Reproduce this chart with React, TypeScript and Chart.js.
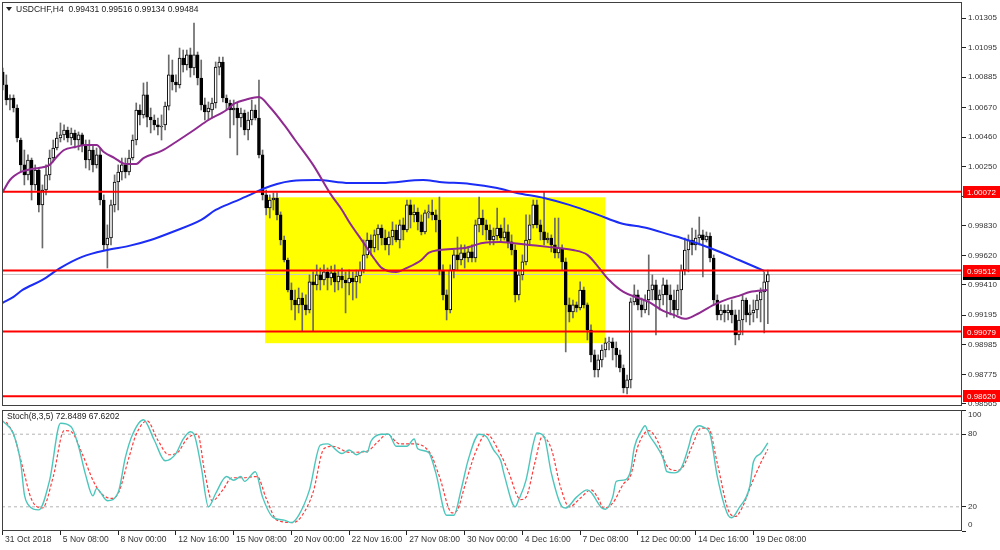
import React, { useEffect, useRef } from "react";
import { Chart, registerables } from "chart.js";

Chart.register(...registerables);

const symbolName = "USDCHF,H4";

const opens = [
  1.00922, 1.0083, 1.00723, 1.00737, 1.00666, 1.00439, 1.00262, 1.00191, 1.00297, 1.0012,
  1.00226, 0.99978, 1.00084, 1.00191, 1.00311, 1.00382, 1.00453, 1.00475, 1.0051, 1.00453,
  1.00489, 1.00439, 1.00475, 1.00404, 1.00297, 1.00368, 1.00262, 1.00333, 1.00013, 0.99694,
  0.99743, 0.99978, 1.00141, 1.00212, 1.00262, 1.00212, 1.00311, 1.00439, 1.00652, 1.00617,
  1.00759, 1.00602, 1.00581, 1.00546, 1.00531, 1.00546, 1.0068, 1.00901, 1.00851, 1.0083,
  1.01021, 1.00972, 1.01043, 1.0095, 1.01043, 1.00879, 1.00688, 1.00638, 1.00652, 1.00702,
  1.00957, 1.00993, 1.00737, 1.00702, 1.00652, 1.00666, 1.00595, 1.00631, 1.0051, 1.00581,
  1.00652, 1.00595, 1.00333, 1.00049, 0.99956, 1.00013, 1.00027, 0.99907, 0.99729, 0.99587,
  0.99374, 0.99303, 0.99268, 0.99317, 0.99268, 0.99232, 0.99431, 0.9941, 0.99481, 0.99445,
  0.99502, 0.99459, 0.99495, 0.99431, 0.99473, 0.99445, 0.99424, 0.99459, 0.99431, 0.99473,
  0.99516, 0.99623, 0.99729, 0.99672, 0.99765, 0.99814, 0.99743, 0.99694, 0.9975, 0.998,
  0.99729, 0.99836, 0.998, 0.99978, 0.99907, 0.99928, 0.99857, 0.99786, 0.99921, 0.99928,
  0.99907, 0.99871, 0.99516, 0.99339, 0.99232, 0.99516, 0.99623, 0.99587, 0.99637, 0.99601,
  0.99644, 0.99601, 0.99836, 0.99885, 0.99836, 0.998, 0.99729, 0.99757, 0.99814, 0.99743,
  0.99786, 0.99715, 0.99658, 0.99339, 0.99481, 0.99573, 0.99729, 0.99836, 0.99978, 0.99836,
  0.99786, 0.99729, 0.99743, 0.99694, 0.99637, 0.99672, 0.99573, 0.99268, 0.99218, 0.99268,
  0.99246, 0.99374, 0.99268, 0.9909, 0.98913, 0.98806, 0.98877, 0.98948, 0.98998, 0.99005,
  0.98962, 0.98913, 0.9882, 0.98678, 0.98735, 0.99289, 0.99339, 0.99268, 0.99232, 0.99303,
  0.99374, 0.9941, 0.99303, 0.99339, 0.9941, 0.99339, 0.99303, 0.99232, 0.99374, 0.99516,
  0.99658, 0.99729, 0.99694, 0.99743, 0.99765, 0.99729, 0.99757, 0.99601, 0.99303, 0.99197,
  0.99232, 0.99211, 0.99232, 0.99197, 0.99055, 0.99161, 0.99303, 0.99197, 0.99211, 0.99232,
  0.99303, 0.9936, 0.99431,
];

const highs = [
  1.0095, 1.00901, 1.00759, 1.00759, 1.00688, 1.00453, 1.00368, 1.00333, 1.00311, 1.00262,
  1.0024, 1.0012, 1.00262, 1.00368, 1.00439, 1.00496, 1.0056, 1.00546, 1.00531, 1.00524,
  1.0051, 1.00496, 1.00489, 1.00439, 1.00439, 1.00404, 1.00382, 1.00382, 1.00049, 0.99836,
  1.00013, 1.00191, 1.00262, 1.00311, 1.00311, 1.00368, 1.00475, 1.00702, 1.00688, 1.00844,
  1.00851, 1.00666, 1.00617, 1.00595, 1.00617, 1.00709, 1.01043, 1.01007, 1.00901, 1.01092,
  1.01078, 1.01078, 1.01092, 1.0127, 1.01064, 1.01007, 1.00737, 1.00709, 1.00737, 1.00993,
  1.01028, 1.01028, 1.00759, 1.00723, 1.00723, 1.00702, 1.00666, 1.00652, 1.00638, 1.00723,
  1.00688, 1.00865, 1.00368, 1.00084, 1.00049, 1.00063, 1.00063, 0.99928, 0.99757, 0.99601,
  0.99424, 0.99374, 0.99388, 0.99353, 0.99339, 0.99481, 0.99502, 0.99552, 0.9953, 0.99552,
  0.9953, 0.99544, 0.99552, 0.99516, 0.9953, 0.99502, 0.99516, 0.99502, 0.99516, 0.99573,
  0.99729, 0.99779, 0.99765, 0.998, 0.99836, 0.99836, 0.998, 0.99786, 0.99857, 0.99836,
  0.99871, 0.99885, 1.00013, 1.00013, 0.99978, 0.99956, 0.99907, 0.99942, 0.99978, 1.00013,
  0.99942, 1.00034, 0.99552, 0.99374, 0.99552, 0.99658, 0.9975, 0.99694, 0.99694, 0.99679,
  0.99694, 0.99871, 1.00034, 0.99942, 0.99871, 0.99836, 0.99814, 0.99956, 0.99836, 0.99885,
  0.99836, 0.99765, 0.99694, 0.99516, 0.99623, 0.99907, 0.99907, 1.00013, 1.00013, 0.99871,
  1.0007, 0.99779, 0.99765, 0.99885, 0.99885, 0.99694, 0.99601, 0.99317, 0.99303, 0.99289,
  0.99431, 0.99395, 0.99282, 0.99126, 0.98948, 0.98913, 0.98984, 0.99033, 0.9904, 0.99033,
  0.99005, 0.98948, 0.98842, 0.9877, 0.99317, 0.9941, 0.99374, 0.99317, 0.99339, 0.99623,
  0.99481, 0.99445, 0.99374, 0.99459, 0.99445, 0.9941, 0.99374, 0.9941, 0.99552, 0.99743,
  0.99765, 0.99814, 0.998, 0.99892, 0.998, 0.99786, 0.99779, 0.99623, 0.99339, 0.99268,
  0.99268, 0.99268, 0.99303, 0.99232, 0.99232, 0.99339, 0.99317, 0.99268, 0.99303, 0.99339,
  0.99388, 0.99502, 0.99516,
];

const lows = [
  1.00794, 1.00688, 1.00652, 1.00638, 1.00425, 1.00212, 1.0012, 1.00155, 1.00013, 1.00084,
  0.99928, 0.99672, 1.00049, 1.00155, 1.00283, 1.00368, 1.00425, 1.00439, 1.00425, 1.00404,
  1.00382, 1.00368, 1.00354, 1.0024, 1.00226, 1.00212, 1.0024, 0.99978, 0.99658, 0.9953,
  0.99694, 0.99928, 0.99942, 1.00155, 1.00169, 1.00191, 1.00297, 1.00404, 1.00546, 1.00595,
  1.00531, 1.00489, 1.0051, 1.00475, 1.00439, 1.0051, 1.00652, 1.00794, 1.0078, 1.00808,
  1.00922, 1.00936, 1.00886, 1.00901, 1.0083, 1.00652, 1.00581, 1.00581, 1.00595, 1.00666,
  1.00901, 1.00709, 1.00652, 1.00453, 1.00546, 1.00333, 1.00531, 1.00475, 1.00439, 1.00546,
  1.00581, 1.00311, 1.00013, 0.99907, 0.99885, 0.99942, 0.99871, 0.99694, 0.99573, 0.9936,
  0.99232, 0.99161, 0.99211, 0.99083, 0.99197, 0.99211, 0.99083, 0.99374, 0.99374, 0.9941,
  0.99374, 0.9941, 0.9936, 0.99374, 0.99388, 0.99211, 0.99339, 0.99303, 0.99317, 0.99424,
  0.99495, 0.99601, 0.99623, 0.99644, 0.99658, 0.99694, 0.99658, 0.99623, 0.99694, 0.99715,
  0.99672, 0.99729, 0.99786, 0.99814, 0.99857, 0.998, 0.99765, 0.99772, 0.99885, 0.99871,
  0.99786, 0.99481, 0.99303, 0.99161, 0.99211, 0.99459, 0.99516, 0.99552, 0.9953, 0.99573,
  0.99573, 0.99573, 0.99786, 0.99765, 0.99729, 0.99694, 0.99694, 0.99729, 0.99715, 0.99729,
  0.99672, 0.99623, 0.99289, 0.99303, 0.99445, 0.99552, 0.99694, 0.99814, 0.99814, 0.99729,
  0.99694, 0.99708, 0.99644, 0.99601, 0.99601, 0.99516, 0.98934, 0.99147, 0.99175, 0.99218,
  0.99232, 0.99246, 0.99019, 0.98863, 0.98756, 0.98756, 0.98827, 0.98898, 0.98948, 0.98877,
  0.98827, 0.98792, 0.98643, 0.98636, 0.98678, 0.99268, 0.99232, 0.99182, 0.99211, 0.99197,
  0.99303, 0.99055, 0.99232, 0.99268, 0.99182, 0.99197, 0.99175, 0.99197, 0.99197, 0.99481,
  0.99502, 0.99623, 0.99658, 0.99694, 0.99466, 0.99715, 0.99573, 0.99268, 0.99161, 0.99161,
  0.99147, 0.99161, 0.9914, 0.98984, 0.99019, 0.99055, 0.99147, 0.99126, 0.99147, 0.99175,
  0.99147, 0.99069, 0.99134,
];

const closes = [
  1.0083, 1.00723, 1.00737, 1.00666, 1.00453, 1.00262, 1.00191, 1.00297, 1.0012, 1.00226,
  0.99978, 1.00084, 1.00191, 1.00311, 1.00382, 1.00453, 1.00475, 1.0051, 1.00453, 1.00489,
  1.00439, 1.00475, 1.00404, 1.00297, 1.00368, 1.00262, 1.00333, 1.00013, 0.99694, 0.99743,
  0.99978, 1.00141, 1.00212, 1.00262, 1.00212, 1.00311, 1.00439, 1.00652, 1.00617, 1.00759,
  1.00602, 1.00581, 1.00546, 1.00531, 1.00538, 1.0068, 1.00901, 1.00851, 1.0083, 1.01021,
  1.00972, 1.01043, 1.0095, 1.01043, 1.00879, 1.00688, 1.00638, 1.00666, 1.00702, 1.00957,
  1.00993, 1.00737, 1.00702, 1.00652, 1.00666, 1.00595, 1.00631, 1.0051, 1.00581, 1.00652,
  1.00595, 1.00333, 1.00049, 0.99956, 1.00013, 1.00027, 0.99907, 0.99729, 0.99587, 0.99374,
  0.99303, 0.99268, 0.99317, 0.99268, 0.99232, 0.99431, 0.9941, 0.99481, 0.99445, 0.99502,
  0.99459, 0.99495, 0.99431, 0.99473, 0.99445, 0.99424, 0.99459, 0.99431, 0.99473, 0.99516,
  0.99623, 0.99729, 0.99672, 0.99765, 0.99814, 0.99743, 0.99694, 0.9975, 0.998, 0.99729,
  0.99836, 0.998, 0.99978, 0.99907, 0.99928, 0.99857, 0.99786, 0.99921, 0.99928, 0.99907,
  0.99871, 0.99516, 0.99339, 0.99232, 0.99516, 0.99623, 0.99587, 0.99637, 0.99601, 0.99644,
  0.99601, 0.99836, 0.99885, 0.99836, 0.998, 0.99729, 0.99757, 0.99814, 0.99743, 0.99786,
  0.99715, 0.99658, 0.99339, 0.99481, 0.99573, 0.99729, 0.99836, 0.99978, 0.99836, 0.99786,
  0.99729, 0.99743, 0.99694, 0.99637, 0.99672, 0.99573, 0.99268, 0.99218, 0.99268, 0.99246,
  0.99374, 0.99268, 0.9909, 0.98913, 0.98806, 0.98877, 0.98948, 0.98998, 0.99005, 0.98962,
  0.98913, 0.9882, 0.98678, 0.98735, 0.99289, 0.99339, 0.99268, 0.99232, 0.99303, 0.99374,
  0.9941, 0.99303, 0.99339, 0.9941, 0.99339, 0.99303, 0.99232, 0.99374, 0.99516, 0.99658,
  0.99729, 0.99694, 0.99743, 0.99765, 0.99729, 0.99757, 0.99601, 0.99303, 0.99197, 0.99232,
  0.99211, 0.99232, 0.99197, 0.99055, 0.99161, 0.99303, 0.99197, 0.99211, 0.99232, 0.99303,
  0.9936, 0.99431, 0.99484,
];

const purpleBars = [0, 2, 5, 8, 10, 13, 15, 17, 20, 23, 26, 28, 31, 34, 37, 39, 44, 48, 53, 57, 62, 64, 68, 71, 74, 78, 81, 86, 91, 94, 96, 100, 103, 105, 109, 112, 116, 118, 121, 128, 133, 138, 141, 146, 151, 154, 158, 162, 165, 168, 172, 176, 179, 183, 186, 189, 192, 197, 201, 204, 207, 212];
const purpleMA = [1.0007, 1.00155, 1.00212, 1.00233, 1.0024, 1.00262, 1.0032, 1.00368, 1.00389, 1.00404, 1.00404, 1.00354, 1.00311, 1.00269, 1.00269, 1.00311, 1.00361, 1.00425, 1.0051, 1.00581, 1.00652, 1.00695, 1.0073, 1.00744, 1.00673, 1.00546, 1.00439, 1.00262, 1.00049, 0.99942, 0.99857, 0.99708, 0.99594, 0.99531, 0.99502, 0.99531, 0.99587, 0.99637, 0.99658, 0.99672, 0.99708, 0.99715, 0.99708, 0.99694, 0.9968, 0.99672, 0.99658, 0.99623, 0.99538, 0.99445, 0.9936, 0.99318, 0.99289, 0.99225, 0.99197, 0.99169, 0.99197, 0.99268, 0.99311, 0.99332, 0.9936, 0.99374];

const blueBars = [0, 3, 5.5, 11, 16, 22, 29, 35, 41, 47, 55, 59, 64, 68.5, 72, 76, 80, 87, 96, 105, 116.5, 121, 129.5, 137, 142.5, 150, 157, 165, 171, 178.5, 185, 188, 196, 204, 211];
const blueMA = [0.99282, 0.99325, 0.99374, 0.99445, 0.99531, 0.99609, 0.99658, 0.99687, 0.99729, 0.99786, 0.99871, 0.99942, 0.99999, 1.00049, 1.00091, 1.00127, 1.00148, 1.00155, 1.00134, 1.00134, 1.00155, 1.00141, 1.00127, 1.00098, 1.00063, 1.00027, 0.99978, 0.99907, 0.9985, 0.99814, 0.99765, 0.99743, 0.99672, 0.99587, 0.99509];

const levelPrices = [1.00072, 0.99512, 0.99079, 0.9862];
const bidPrice = 0.99484;
const zoneBars = [72.7, 166.9];
const zonePrices = [0.98996, 1.00032];

const priceTicks = [1.01305, 1.01095, 1.00885, 1.0067, 1.0046, 1.0025, 1.0004, 0.9983, 0.9962, 0.9941, 0.99195, 0.98985, 0.98775, 0.98565];

const timeLabels = ["31 Oct 2018", "5 Nov 08:00", "8 Nov 00:00", "12 Nov 16:00", "15 Nov 08:00", "20 Nov 00:00", "22 Nov 16:00", "27 Nov 08:00", "30 Nov 00:00", "4 Dec 16:00", "7 Dec 08:00", "12 Dec 00:00", "14 Dec 16:00", "19 Dec 08:00"];
const timeLabelBars = [0, 16, 32, 48, 64, 80, 96, 112, 128, 144, 160, 176, 192, 208];

const stochKBars = [0, 3, 5, 6, 7, 10, 13, 16, 19, 21, 23, 25, 26, 29, 32, 34, 36, 39, 42, 45, 48, 50, 52, 53, 55, 57, 59, 62, 64, 66, 67, 70, 72, 75, 78, 80, 82, 85, 88, 90, 94, 96, 98, 100, 101, 102, 105, 107, 109, 112, 114, 115, 118, 120, 123, 125, 127, 129, 132, 134, 136, 138, 139, 142, 143, 145, 147, 148, 150, 152, 155, 156, 159, 162, 163, 166, 167, 169, 170, 172, 174, 175, 177, 178, 179, 181, 183, 184, 186, 188, 190, 191, 193, 194, 196, 198, 201, 202, 204, 207, 208, 210, 212];
const stochK = [91, 80, 56, 30, 22, 17.5, 42, 89, 86, 70, 46, 29, 35, 25, 32, 61, 80, 92, 75, 58, 64, 76, 82, 80, 53, 20, 31, 45, 42, 45, 41, 49, 28, 11, 9, 7, 13, 34, 71, 72, 64, 67, 63, 66, 65, 74, 80, 80, 70, 70, 76, 68, 65, 48, 13, 13, 34, 59, 80, 78, 67, 58, 46, 20, 26, 42, 72, 81, 78, 48, 20, 19, 28, 34, 32, 19, 18, 28, 41, 42, 50, 69, 83, 87, 80, 71, 60, 49, 48, 52, 69, 80, 87, 86, 80, 45, 13, 11, 19, 37, 57, 64, 72.8489];

const stochDBars = [1, 3, 5.5, 8, 11, 14, 17, 19, 22, 25, 27, 30, 32, 35, 37, 40, 43, 46, 48.5, 51, 54, 56, 58, 61, 63.5, 66.5, 70.5, 73, 76, 80.5, 83, 86, 89, 91.5, 96, 101, 104, 106.5, 110, 114, 118.5, 121, 124.5, 126, 128, 131, 134, 138, 140, 143.5, 145, 147.5, 149.5, 152, 154.5, 157, 160, 163, 165, 166.5, 169, 172, 174, 176, 179, 181.5, 184, 186.5, 188.5, 191, 193.5, 195.5, 198, 201, 203, 205, 207.5, 210, 212];
const stochD = [90, 80, 53, 26, 19, 45, 83, 82, 64, 42, 32, 27, 31, 61, 80, 91, 75, 63, 65, 76, 80, 48, 25, 34, 44, 44, 45, 27, 9, 7, 13, 32, 68, 70, 65, 66, 74, 80, 72, 72, 64, 45, 15, 17.5, 37, 65, 80, 63, 50, 26, 28, 57, 78, 68, 37, 20, 27, 34, 27, 19, 23, 39, 46, 70, 83, 74, 54, 50, 53, 70, 85, 85, 56, 17.5, 12, 20, 39, 56, 67.6202];

const stochLevels = [20, 80];
const stochTicks = [0, 20, 80, 100];
const stochLabeled = [20, 80];

const X_MIN = -0.2;
const X_MAX = 265.8;
const FONT = "'Liberation Sans', Arial, sans-serif";

const hline = (v: number) => [
  { x: X_MIN, y: v },
  { x: X_MAX, y: v },
];

const noPadY = (s: any) => {
  s.width = 38;
  s.paddingTop = 0;
  s.paddingBottom = 0;
};

export default function App() {
  const mainRef = useRef<HTMLCanvasElement | null>(null);
  const stochRef = useRef<HTMLCanvasElement | null>(null);

  useEffect(() => {
    const n = opens.length;
    const idx = opens.map((_, i) => i);
    const wickData = idx.map((i) => ({ x: i, y: [lows[i], highs[i]] }));
    const bodyData = idx.map((i) => ({ x: i, y: [opens[i], closes[i]] }));
    const bodyColors = idx.map((i) => (closes[i] >= opens[i] ? "#ffffff" : "#000000"));
    const title = `${symbolName}  ${opens[n - 1].toFixed(5)} ${highs[n - 1].toFixed(5)} ${lows[n - 1].toFixed(5)} ${closes[n - 1].toFixed(5)}`;

    const mainPlugin = {
      id: "mainDecor",
      beforeDatasetsDraw(chart: any) {
        const { ctx, scales } = chart;
        const x1 = scales.x.getPixelForValue(zoneBars[0]);
        const x2 = scales.x.getPixelForValue(zoneBars[1]);
        const y1 = scales.y.getPixelForValue(zonePrices[1]);
        const y2 = scales.y.getPixelForValue(zonePrices[0]);
        ctx.save();
        ctx.fillStyle = "#ffff00";
        ctx.fillRect(x1, y1, x2 - x1, y2 - y1);
        ctx.restore();
      },
      afterDraw(chart: any) {
        const { ctx, chartArea: a, scales } = chart;
        ctx.save();
        ctx.strokeStyle = "#404040";
        ctx.lineWidth = 1;
        ctx.strokeRect(a.left + 0.5, a.top + 0.5, a.right - a.left - 1, a.bottom - a.top - 1);
        const tag = (v: number, bg: string) => {
          const py = Math.round(scales.y.getPixelForValue(v));
          ctx.fillStyle = bg;
          ctx.fillRect(a.right + 1, py - 6, chart.width - a.right - 1, 12);
          ctx.fillStyle = "#ffffff";
          ctx.font = `8px ${FONT}`;
          ctx.textBaseline = "middle";
          ctx.textAlign = "left";
          ctx.fillText(v.toFixed(5), a.right + 5, py + 0.5);
        };
        tag(bidPrice, "#000000");
        levelPrices.forEach((v) => tag(v, "#ff0000"));
        ctx.fillStyle = "#222222";
        ctx.beginPath();
        ctx.moveTo(6, 7);
        ctx.lineTo(12, 7);
        ctx.lineTo(9, 11);
        ctx.closePath();
        ctx.fill();
        ctx.font = `8.5px ${FONT}`;
        ctx.textBaseline = "middle";
        ctx.textAlign = "left";
        ctx.fillText(title, 16, 9.5);
        ctx.restore();
      },
    };

    const mainChart = new Chart(mainRef.current as HTMLCanvasElement, {
      type: "bar",
      data: {
        datasets: [
          ...levelPrices.map((v) => ({
            type: "line" as const,
            data: hline(v),
            borderColor: "#ff0000",
            borderWidth: 2,
            pointRadius: 0,
            order: 0,
          })),
          {
            type: "line" as const,
            data: purpleBars.map((b, i) => ({ x: b, y: purpleMA[i] })),
            borderColor: "#8e2a90",
            borderWidth: 2,
            pointRadius: 0,
            cubicInterpolationMode: "monotone" as const,
            order: 1,
          },
          {
            type: "line" as const,
            data: blueBars.map((b, i) => ({ x: b, y: blueMA[i] })),
            borderColor: "#1a2cf5",
            borderWidth: 2,
            pointRadius: 0,
            cubicInterpolationMode: "monotone" as const,
            order: 1,
          },
          {
            type: "bar" as const,
            data: bodyData as any,
            backgroundColor: bodyColors,
            borderColor: "#000000",
            borderWidth: 1,
            borderSkipped: false,
            barThickness: 3,
            minBarLength: 1,
            grouped: false,
            order: 2,
          },
          {
            type: "bar" as const,
            data: wickData as any,
            backgroundColor: "#6a6a6a",
            borderWidth: 0,
            barThickness: 1,
            grouped: false,
            order: 3,
          },
          {
            type: "line" as const,
            data: hline(bidPrice),
            borderColor: "#c8c8c8",
            borderWidth: 1,
            pointRadius: 0,
            order: 4,
          },
        ],
      },
      options: {
        animation: false,
        responsive: false,
        maintainAspectRatio: false,
        layout: { padding: { left: 2, top: 2, right: 0, bottom: 2 } },
        plugins: { legend: { display: false }, tooltip: { enabled: false } },
        scales: {
          x: { type: "linear", min: X_MIN, max: X_MAX, display: false, offset: false },
          y: {
            position: "right",
            min: 0.9855,
            max: 1.01419,
            beginAtZero: false,
            afterFit: noPadY,
            afterBuildTicks: (s: any) => {
              s.ticks = priceTicks.map((v) => ({ value: v }));
            },
            ticks: {
              callback: (v: any) => Number(v).toFixed(5),
              font: { size: 8, family: FONT },
              color: "#333333",
              padding: 2,
              autoSkip: false,
            },
            grid: { drawOnChartArea: false, tickLength: 4, color: "#222222" },
            border: { display: false },
          },
        },
      } as any,
      plugins: [mainPlugin],
    });

    const stochPlugin = {
      id: "stochDecor",
      afterDraw(chart: any) {
        const { ctx, chartArea: a, scales } = chart;
        ctx.save();
        ctx.strokeStyle = "#404040";
        ctx.lineWidth = 1;
        ctx.strokeRect(a.left + 0.5, a.top + 0.5, a.right - a.left - 1, a.bottom - a.top - 1);
        ctx.fillStyle = "#333333";
        ctx.font = `8px ${FONT}`;
        ctx.textBaseline = "middle";
        ctx.textAlign = "left";
        ctx.fillText("100", a.right + 6, scales.y.getPixelForValue(100) + 5);
        ctx.fillText("0", a.right + 6, scales.y.getPixelForValue(0) - 6);
        ctx.fillStyle = "#222222";
        ctx.font = `8.5px ${FONT}`;
        ctx.fillText(
          `Stoch(8,3,5) ${stochK[stochK.length - 1].toFixed(4)} ${stochD[stochD.length - 1].toFixed(4)}`,
          7,
          a.top + 7
        );
        ctx.restore();
      },
    };

    const stochChart = new Chart(stochRef.current as HTMLCanvasElement, {
      type: "line",
      data: {
        datasets: [
          ...stochLevels.map((v) => ({
            data: hline(v),
            borderColor: "#b4b4b4",
            borderWidth: 1,
            borderDash: [3, 3],
            pointRadius: 0,
            order: 3,
          })),
          {
            data: stochDBars.map((b, i) => ({ x: b, y: stochD[i] })),
            borderColor: "#ff3b3b",
            borderWidth: 1.2,
            borderDash: [3, 2],
            pointRadius: 0,
            cubicInterpolationMode: "monotone" as const,
            order: 2,
          },
          {
            data: stochKBars.map((b, i) => ({ x: b, y: stochK[i] })),
            borderColor: "#4cc6bc",
            borderWidth: 1.4,
            pointRadius: 0,
            cubicInterpolationMode: "monotone" as const,
            order: 1,
          },
        ],
      },
      options: {
        animation: false,
        responsive: false,
        maintainAspectRatio: false,
        layout: { padding: { left: 2, top: 2, right: 0, bottom: 0 } },
        plugins: { legend: { display: false }, tooltip: { enabled: false } },
        scales: {
          x: {
            type: "linear",
            min: X_MIN,
            max: X_MAX,
            offset: false,
            afterFit: (s: any) => {
              s.height = 19;
              s.paddingLeft = 0;
              s.paddingRight = 0;
            },
            afterBuildTicks: (s: any) => {
              s.ticks = timeLabelBars.map((v) => ({ value: v }));
            },
            ticks: {
              autoSkip: false,
              maxRotation: 0,
              minRotation: 0,
              align: "start",
              padding: 0,
              font: { size: 8.5, family: FONT },
              color: "#333333",
              callback: (_v: any, i: number) => " " + timeLabels[i],
            },
            grid: { drawOnChartArea: false, tickLength: 4, color: "#222222" },
            border: { display: false },
          },
          y: {
            position: "right",
            min: 0,
            max: 100,
            afterFit: noPadY,
            afterBuildTicks: (s: any) => {
              s.ticks = stochTicks.map((v) => ({ value: v }));
            },
            ticks: {
              autoSkip: false,
              callback: (v: any) => (stochLabeled.includes(Number(v)) ? String(v) : ""),
              font: { size: 8, family: FONT },
              color: "#333333",
              padding: 2,
            },
            grid: { drawOnChartArea: false, tickLength: 4, color: "#222222" },
            border: { display: false },
          },
        },
      } as any,
      plugins: [stochPlugin],
    });

    return () => {
      mainChart.destroy();
      stochChart.destroy();
    };
  }, []);

  return (
    <div style={{ position: "absolute", left: 0, top: 0, width: 1000, height: 550, background: "#ffffff" }}>
      <canvas
        ref={mainRef}
        width={1000}
        height={408}
        style={{ position: "absolute", left: 0, top: 0, width: 1000, height: 408 }}
      />
      <canvas
        ref={stochRef}
        width={1000}
        height={142}
        style={{ position: "absolute", left: 0, top: 408, width: 1000, height: 142 }}
      />
    </div>
  );
}
